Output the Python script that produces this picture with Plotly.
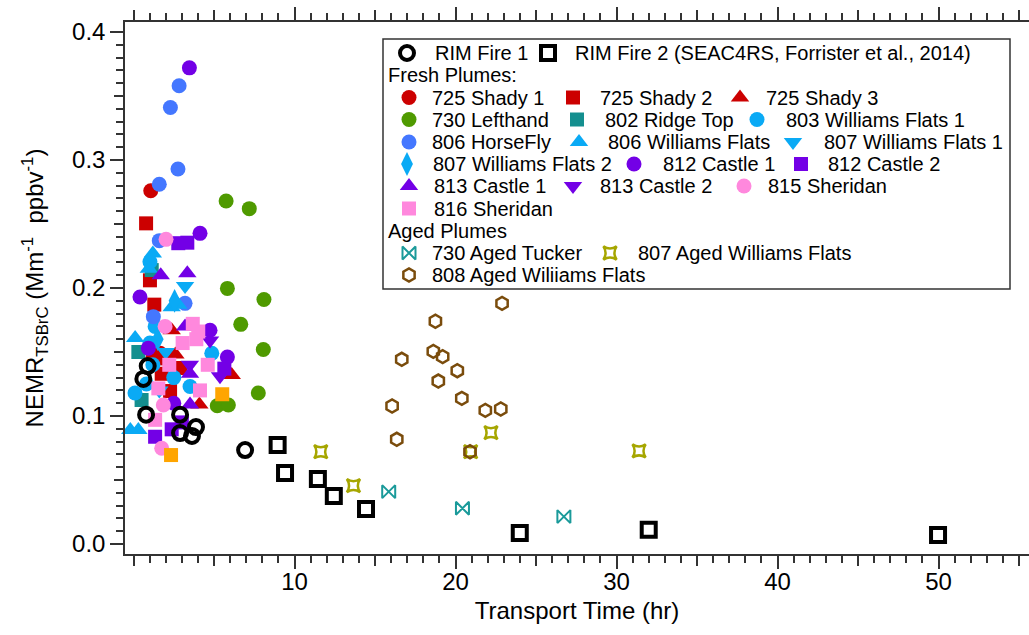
import plotly.graph_objects as go

# ---------------- data (transport time hr, NEMR) ----------------
rim1_x = [0.88, 0.61, 0.78, 2.89, 3.88, 2.89, 3.63, 6.93]
rim1_y = [0.139, 0.129, 0.101, 0.101, 0.0914, 0.0867, 0.0844, 0.0734]
rim2_x = [8.95, 9.41, 11.45, 12.44, 14.44, 23.99, 32.0, 49.97]
rim2_y = [0.0773, 0.0555, 0.0508, 0.0375, 0.0273, 0.0086, 0.0112, 0.0070]

shady1_x = [1.07, 1.65, 1.20]
shady1_y = [0.276, 0.149, 0.145]
shady2_x = [0.78, 1.02, 1.29, 1.75, 2.27, 1.50, 2.89]
shady2_y = [0.2505, 0.206, 0.187, 0.133, 0.1195, 0.145, 0.1375]
shady3_x = [2.37, 6.10, 4.09, 2.60]
shady3_y = [0.167, 0.132, 0.109, 0.148]
lefthand_x = [5.75, 7.19, 5.83, 8.10, 6.66, 8.06, 7.75, 5.20, 5.89]
lefthand_y = [0.268, 0.262, 0.1997, 0.191, 0.1716, 0.152, 0.118, 0.108, 0.1086]
ridge_x = [1.13, 0.30, 0.50]
ridge_y = [0.214, 0.150, 0.1125]
wf1_803_x = [1.02, 1.34, 4.86, 0.09, 3.51, 1.02, 0.80, 1.20, 2.50]
wf1_803_y = [0.2205, 0.170, 0.149, 0.118, 0.123, 0.157, 0.125, 0.140, 0.130]
horsefly_x = [2.83, 2.29, 2.76, 1.60, 1.60, 3.20, 1.23]
horsefly_y = [0.358, 0.341, 0.293, 0.281, 0.237, 0.188, 0.1776]
wf_806_x = [1.20, 0.10, 0.30, -0.20, 2.37, 2.78, 0.95]
wf_806_y = [0.227, 0.161, 0.089, 0.089, 0.185, 0.187, 0.215]
wf1_807_x = [3.20, 2.00, 1.60]
wf1_807_y = [0.2016, 0.150, 0.120]
wf2_807_x = [2.55, 1.50]
wf2_807_y = [0.190, 0.160]
castle1_812_x = [3.47, 4.13, 0.40, 4.75, 5.83, 0.92, 2.50]
castle1_812_y = [0.372, 0.2427, 0.193, 0.167, 0.146, 0.153, 0.110]
castle2_812_x = [2.78, 3.34, 5.64, 1.34, 2.37, 3.00]
castle2_812_y = [0.235, 0.2354, 0.137, 0.0838, 0.0896, 0.095]
castle1_813_x = [1.69, 3.34, 3.51, 3.51, 3.20]
castle1_813_y = [0.210, 0.2115, 0.133, 0.109, 0.170]
castle2_813_x = [4.75, 5.37, 3.50]
castle2_813_y = [0.159, 0.131, 0.140]
sher815_x = [2.02, 1.96, 1.85, 1.75]
sher815_y = [0.238, 0.170, 0.1086, 0.0748]
sher816_x = [3.68, 4.02, 3.05, 2.22, 4.61, 1.54, 4.13, 1.34, 3.90]
sher816_y = [0.172, 0.166, 0.157, 0.140, 0.140, 0.1216, 0.120, 0.097, 0.160]
orange_x = [5.51, 2.33]
orange_y = [0.117, 0.0695]

tucker_x = [15.85, 20.43, 26.73]
tucker_y = [0.0409, 0.0279, 0.0214]
aged807_x = [22.2, 20.94, 31.4, 11.63, 13.66]
aged807_y = [0.087, 0.0721, 0.0727, 0.0721, 0.0456]
aged808_x = [22.89, 18.75, 16.66, 18.62, 19.2, 20.11, 18.93, 20.39, 16.06, 21.85, 22.81, 16.35, 20.9]
aged808_y = [0.188, 0.174, 0.1443, 0.1505, 0.1464, 0.1354, 0.1273, 0.1138, 0.1078, 0.1044, 0.1055, 0.0818, 0.0721]

x_tick_labels = ["10", "20", "30", "40", "50"]
y_tick_labels = ["0.0", "0.1", "0.2", "0.3", "0.4"]

# ---------------- styles ----------------
RED = "#cc0000"; GREEN = "#4f9a00"; TEAL = "#148f8f"; LBLUE = "#0aaaf5"
BLUE = "#4477ff"; PURPLE = "#7300e6"; PINK = "#ff88dd"; ORANGE = "#ffa500"
TUCK = "#1a9a9a"; OLIVE = "#a6a600"; BROWN = "#7a4c0c"

def mk(symbol, color, size, lw=0):
    d = dict(symbol=symbol, color=color, size=size)
    d["line"] = dict(width=lw, color=color)
    return d

series = [
    ("725 Shady 1", shady1_x, shady1_y, mk("circle", RED, 15)),
    ("725 Shady 2", shady2_x, shady2_y, mk("square", RED, 14)),
    ("725 Shady 3", shady3_x, shady3_y, mk("triangle-up", RED, 16)),
    ("730 Lefthand", lefthand_x, lefthand_y, mk("circle", GREEN, 15)),
    ("802 Ridge Top", ridge_x, ridge_y, mk("square", TEAL, 14)),
    ("803 Williams Flats 1", wf1_803_x, wf1_803_y, mk("circle", LBLUE, 15)),
    ("806 HorseFly", horsefly_x, horsefly_y, mk("circle", BLUE, 15)),
    ("806 Williams Flats", wf_806_x, wf_806_y, mk("triangle-up", LBLUE, 16)),
    ("807 Williams Flats 1", wf1_807_x, wf1_807_y, mk("triangle-down", LBLUE, 16)),
    ("807 Williams Flats 2", wf2_807_x, wf2_807_y, mk("diamond-tall", LBLUE, 17)),
    ("812 Castle 1", castle1_812_x, castle1_812_y, mk("circle", PURPLE, 15)),
    ("812 Castle 2", castle2_812_x, castle2_812_y, mk("square", PURPLE, 14)),
    ("813 Castle 1", castle1_813_x, castle1_813_y, mk("triangle-up", PURPLE, 16)),
    ("813 Castle 2", castle2_813_x, castle2_813_y, mk("triangle-down", PURPLE, 16)),
    ("815 Sheridan", sher815_x, sher815_y, mk("circle", PINK, 15)),
    ("816 Sheridan", sher816_x, sher816_y, mk("square", PINK, 14)),
    ("orange", orange_x, orange_y, mk("square", ORANGE, 14)),
    ("730 Aged Tucker", tucker_x, tucker_y, mk("bowtie-open", TUCK, 13, 2)),
    ("807 Aged Williams Flats", aged807_x, aged807_y, mk("star-square-open", OLIVE, 12, 2.5)),
    ("808 Aged Wiliiams Flats", aged808_x, aged808_y, mk("hexagon-open", BROWN, 13, 2.5)),
    ("RIM Fire 1", rim1_x, rim1_y, mk("circle-open", "black", 14, 4)),
    ("RIM Fire 2", rim2_x, rim2_y, mk("square-open", "black", 14, 4)),
]
style = {name: m for name, _, _, m in series}

fig = go.Figure()
for name, xs, ys, m in series:
    fig.add_trace(go.Scatter(x=xs, y=ys, mode="markers", marker=m, name=name,
                             showlegend=False, cliponaxis=False))

# ---------------- hand-built legend (pixel layout) ----------------
row_y = [53, 75, 97.5, 119.5, 142, 164, 186, 208.5, 231, 253, 275]
legend_items = [  # (series, row, marker px x, text px x, label)
    ("RIM Fire 1", 0, 407, 433, "RIM Fire 1"),
    ("RIM Fire 2", 0, 548, 573, "RIM Fire 2 (SEAC4RS, Forrister et al., 2014)"),
    ("725 Shady 1", 2, 409, 430, "725 Shady 1"),
    ("725 Shady 2", 2, 573, 598, "725 Shady 2"),
    ("725 Shady 3", 2, 740, 764, "725 Shady 3"),
    ("730 Lefthand", 3, 409, 430, "730 Lefthand"),
    ("802 Ridge Top", 3, 577, 603, "802 Ridge Top"),
    ("803 Williams Flats 1", 3, 757, 784, "803 Williams Flats 1"),
    ("806 HorseFly", 4, 409, 430, "806 HorseFly"),
    ("806 Williams Flats", 4, 579, 606, "806 Williams Flats"),
    ("807 Williams Flats 1", 4, 793, 822, "807 Williams Flats 1"),
    ("807 Williams Flats 2", 5, 407, 431, "807 Williams Flats 2"),
    ("812 Castle 1", 5, 634, 661, "812 Castle 1"),
    ("812 Castle 2", 5, 801, 826, "812 Castle 2"),
    ("813 Castle 1", 6, 409, 432, "813 Castle 1"),
    ("813 Castle 2", 6, 573, 598, "813 Castle 2"),
    ("815 Sheridan", 6, 744, 766, "815 Sheridan"),
    ("816 Sheridan", 7, 409, 432, "816 Sheridan"),
    ("730 Aged Tucker", 9, 409, 430, "730 Aged Tucker"),
    ("807 Aged Williams Flats", 9, 610, 636, "807 Aged Williams Flats"),
    ("808 Aged Wiliiams Flats", 10, 409, 430, "808 Aged Wiliiams Flats"),
]
legend_headers = [(1, 386, "Fresh Plumes:"), (8, 386, "Aged Plumes")]

FONT = "Liberation Sans, Arial, sans-serif"
annotations = []
for key, r, mx, tx, label in legend_items:
    m = dict(style[key])
    fig.add_trace(go.Scatter(x=[mx], y=[row_y[r]], mode="markers", marker=m,
                             xaxis="x3", yaxis="y3", showlegend=False,
                             hoverinfo="skip", cliponaxis=False))
    annotations.append(dict(x=tx, y=row_y[r], xref="x3", yref="y3", text=label,
                            showarrow=False, xanchor="left", yanchor="middle",
                            font=dict(family=FONT, size=20, color="black")))
for r, tx, label in legend_headers:
    annotations.append(dict(x=tx, y=row_y[r], xref="x3", yref="y3", text=label,
                            showarrow=False, xanchor="left", yanchor="middle",
                            font=dict(family=FONT, size=20, color="black")))

XR = [-0.53, 55.62]
YR = [-0.0078, 0.4078]
AX = "#333333"

fig.update_layout(
    width=1029, height=635,
    margin=dict(l=125, r=0, t=22, b=81),
    paper_bgcolor="white", plot_bgcolor="white",
    font=dict(family=FONT, size=24, color="black"),
    showlegend=False,
    annotations=annotations,
    shapes=[dict(type="rect", xref="x3", yref="y3", x0=383, x1=1010, y0=39, y1=289,
                 line=dict(color=AX, width=1.5), fillcolor="rgba(0,0,0,0)", layer="below")],
    xaxis=dict(range=XR, tickmode="array", tickvals=[10, 20, 30, 40, 50],
               ticktext=x_tick_labels, ticks="outside", ticklen=13, tickwidth=1.5,
               tickcolor=AX, showline=True, linecolor=AX, linewidth=1.5,
               mirror="ticks", showgrid=False, zeroline=False,
               tickfont=dict(size=24), ticklabelstandoff=-8,
               minor=dict(dtick=1, tick0=0, ticks="outside", ticklen=7,
                          tickcolor=AX, tickwidth=1.5, showgrid=False),
               title=dict(text="Transport Time (hr)", font=dict(size=24), standoff=9)),
    yaxis=dict(range=YR, tickmode="array", tickvals=[0, 0.1, 0.2, 0.3, 0.4],
               ticktext=y_tick_labels, ticks="outside", ticklen=13, tickwidth=1.5,
               tickcolor=AX, showline=True, linecolor=AX, linewidth=1.5,
               mirror=False, showgrid=False, zeroline=False,
               tickfont=dict(size=24),
               minor=dict(dtick=0.01, tick0=0, ticks="outside", ticklen=7,
                          tickcolor=AX, tickwidth=1.5, showgrid=False),
               title=dict(text="NEMR<sub>TSBrC</sub> (Mm<sup>-1</sup>  ppbv<sup>-1</sup>)",
                          font=dict(size=24), standoff=22)),
    xaxis2=dict(range=XR, overlaying="x", anchor="y", dtick=5, tick0=0,
                ticks="outside", ticklen=10, tickwidth=1.5, tickcolor=AX,
                showticklabels=False, showline=True, linecolor=AX, linewidth=1.5,
                mirror="ticks", showgrid=False, zeroline=False),
    yaxis2=dict(range=YR, overlaying="y", anchor="x", dtick=0.05, tick0=0,
                ticks="outside", ticklen=10, tickwidth=1.5, tickcolor=AX,
                showticklabels=False, showline=False, showgrid=False, zeroline=False),
    xaxis3=dict(range=[125, 1029], overlaying="x", anchor="y3", visible=False,
                showgrid=False, zeroline=False),
    yaxis3=dict(range=[554, 22], overlaying="y", anchor="x3", visible=False,
                showgrid=False, zeroline=False),
)
# dummy traces to activate the overlay tick axes
fig.add_trace(go.Scatter(x=[None], y=[None], xaxis="x2", yaxis="y2", showlegend=False))

fig.write_html("out.html")
